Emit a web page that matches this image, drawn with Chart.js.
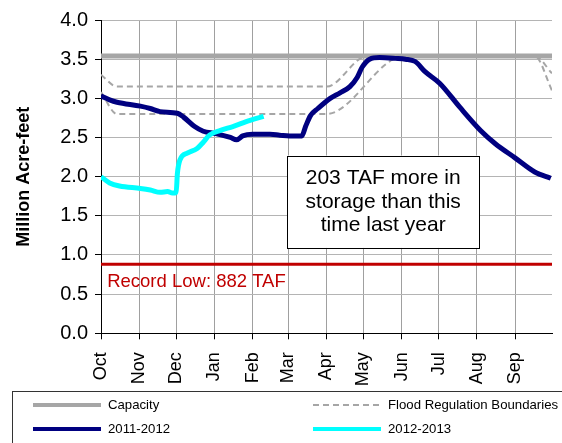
<!DOCTYPE html>
<html>
<head>
<meta charset="utf-8">
<script src="https://cdn.jsdelivr.net/npm/chart.js@4/dist/chart.umd.min.js"></script>
<style>
    body { margin: 0; background: #fff; }
    #wrap { position: relative; width: 562px; height: 443px; }
</style>
</head>
<body>
<div id="wrap"><canvas id="storageChart"></canvas></div>
<script>
'use strict';

// days counted from Oct 1 (water year, 2012 is a leap year)
let monthLabels = ['Oct', 'Nov', 'Dec', 'Jan', 'Feb', 'Mar', 'Apr', 'May', 'Jun', 'Jul', 'Aug', 'Sep'];
let monthStarts = [0, 31, 61, 92, 123, 152, 183, 213, 244, 274, 305, 336];
let yTicks = [0, 0.5, 1, 1.5, 2, 2.5, 3, 3.5, 4];

let capacityDays = [0, 366];
let capacityValues = [3.54, 3.54];

let recordLowDays = [0, 366];
let recordLowValues = [0.882, 0.882];

let floodUpperDays = [0, 13, 183, 216, 352, 366];
let floodUpperValues = [3.30, 3.15, 3.15, 3.54, 3.54, 3.32];
let floodLowerDays = [0, 13, 183, 246, 352, 366];
let floodLowerValues = [3.08, 2.80, 2.80, 3.54, 3.54, 3.10];

let days1112 = [0, 7, 13, 32, 40, 48, 62, 67, 76, 83, 93, 105, 110, 115, 123, 137, 145, 153, 163, 166, 170, 176, 186, 194, 202, 208, 212, 218, 226, 239, 247, 255, 263, 275, 291, 308, 320, 336, 352, 365];
let values1112 = [3.03, 2.98, 2.95, 2.90, 2.87, 2.83, 2.81, 2.76, 2.64, 2.58, 2.55, 2.50, 2.47, 2.52, 2.54, 2.54, 2.53, 2.52, 2.52, 2.64, 2.78, 2.87, 3.00, 3.07, 3.15, 3.27, 3.40, 3.50, 3.52, 3.51, 3.50, 3.47, 3.34, 3.19, 2.89, 2.59, 2.42, 2.24, 2.06, 1.98];

let days1213 = [0, 7, 15, 32, 40, 48, 54, 58, 61, 62, 64, 70, 78, 83, 88, 97, 107, 121, 132];
let values1213 = [2.00, 1.92, 1.88, 1.85, 1.83, 1.80, 1.81, 1.79, 1.80, 2.04, 2.21, 2.30, 2.36, 2.44, 2.53, 2.59, 2.64, 2.72, 2.77];

let noteLines = ['203 TAF more in', 'storage than this', 'time last year'];
let noteBox = { dayFrom: 151, dayTo: 307, top: 2.27, bottom: 1.09 };
let recordLowText = 'Record Low: 882 TAF';

let toPoints = function (xs, ys) {
    return xs.map((x, i) => ({ x: x, y: ys[i] }));
};

let fontFamily = '"Liberation Sans", Arial, sans-serif';
Chart.defaults.font.family = fontFamily;
Chart.defaults.color = '#000';

let notesPlugin = {
    id: 'notes',
    afterDatasetsDraw: function (chart) {
        let ctx = chart.ctx;
        let xs = chart.scales.x, ys = chart.scales.y;

        // text box
        let left = xs.getPixelForValue(noteBox.dayFrom), right = xs.getPixelForValue(noteBox.dayTo);
        let top = ys.getPixelForValue(noteBox.top), bottom = ys.getPixelForValue(noteBox.bottom);
        ctx.save();
        ctx.fillStyle = '#fff';
        ctx.fillRect(left, top, right - left, bottom - top);
        ctx.strokeStyle = '#000';
        ctx.lineWidth = 1;
        ctx.strokeRect(Math.round(left) + 0.5, Math.round(top) + 0.5, Math.round(right - left), Math.round(bottom - top));
        ctx.fillStyle = '#000';
        ctx.font = '21px ' + fontFamily;
        ctx.textAlign = 'center';
        ctx.textBaseline = 'middle';
        let cx = (left + right) / 2;
        noteLines.forEach(function (line, i) {
            ctx.fillText(line, cx, top + 23 + i * 23.5);
        });

        // record low label
        ctx.fillStyle = '#c00000';
        ctx.font = '18.5px ' + fontFamily;
        ctx.textAlign = 'left';
        ctx.fillText(recordLowText, xs.getPixelForValue(5), ys.getPixelForValue(0.65));
        ctx.restore();
    }
};

let legendPlugin = {
    id: 'boxLegend',
    afterDraw: function (chart) {
        let ctx = chart.ctx;
        let sets = chart.data.datasets;
        let slots = [[0, 33, 405], [2, 313, 405], [4, 33, 429], [5, 313, 429]];
        ctx.save();
        ctx.strokeStyle = '#333';
        ctx.lineWidth = 1;
        ctx.strokeRect(12.5, 391.5, 560, 60);
        ctx.font = '13.2px ' + fontFamily;
        ctx.textBaseline = 'middle';
        ctx.textAlign = 'left';
        slots.forEach(function (s) {
            let ds = sets[s[0]];
            ctx.beginPath();
            ctx.strokeStyle = ds.borderColor;
            ctx.lineWidth = ds.borderDash ? 2 : 4;
            ctx.setLineDash(ds.borderDash || []);
            ctx.moveTo(s[1], s[2]);
            ctx.lineTo(s[1] + 68, s[2]);
            ctx.stroke();
            ctx.setLineDash([]);
            ctx.fillStyle = '#000';
            ctx.fillText(ds.label, s[1] + 75, s[2]);
        });
        ctx.restore();
    }
};

let lineSet = function (label, xs, ys, color, width, order, dash) {
    return {
        label: label,
        data: toPoints(xs, ys),
        borderColor: color,
        backgroundColor: color,
        borderWidth: width,
        borderDash: dash,
        pointRadius: 0,
        tension: 0.3,
        cubicInterpolationMode: 'monotone',
        fill: false,
        order: order
    };
};

let storageChart = new Chart(document.getElementById('storageChart'), {
    type: 'line',
    data: {
        datasets: [
            lineSet('Capacity', capacityDays, capacityValues, '#a6a6a6', 5, 3),
            lineSet('Record Low', recordLowDays, recordLowValues, '#c00000', 3, 3),
            lineSet('Flood Regulation Boundaries', floodUpperDays, floodUpperValues, '#a6a6a6', 2, 4, [6, 4]),
            lineSet('Flood Regulation Boundaries', floodLowerDays, floodLowerValues, '#a6a6a6', 2, 4, [6, 4]),
            lineSet('2011-2012', days1112, values1112, '#000080', 5, 2),
            lineSet('2012-2013', days1213, values1213, '#00ffff', 5, 1)
        ]
    },
    options: {
        responsive: true,
        maintainAspectRatio: false,
        animation: false,
        layout: { padding: { left: 0, right: 10, top: 20, bottom: 51 } },
        plugins: {
            legend: { display: false },
            tooltip: { enabled: false }
        },
        scales: {
            x: {
                type: 'linear',
                min: 0,
                max: 366,
                afterBuildTicks: function (axis) {
                    axis.ticks = monthStarts.map(v => ({ value: v }));
                },
                afterFit: function (axis) {
                    axis.height = 58.7;
                },
                ticks: {
                    autoSkip: false,
                    maxRotation: 90,
                    minRotation: 90,
                    padding: 13,
                    font: { size: 18 },
                    callback: function (value) {
                        let i = monthStarts.indexOf(value);
                        return i >= 0 ? monthLabels[i] : '';
                    }
                },
                grid: { color: '#a0a0a0', tickColor: '#000', tickLength: 6 },
                border: { color: '#000' }
            },
            y: {
                min: 0,
                max: 4,
                afterBuildTicks: function (axis) {
                    axis.ticks = yTicks.map(v => ({ value: v }));
                },
                afterFit: function (axis) {
                    axis.width = 101;
                },
                ticks: {
                    font: { size: 20 },
                    padding: 7,
                    callback: v => v.toFixed(1)
                },
                title: {
                    display: true,
                    text: 'Million Acre-feet',
                    font: { size: 18, weight: 'bold' },
                    padding: { top: 13, bottom: 0 }
                },
                grid: { color: '#b4b4b4', tickColor: '#000', tickLength: 6 },
                border: { color: '#000' }
            }
        }
    },
    plugins: [notesPlugin, legendPlugin]
});
</script>
</body>
</html>
